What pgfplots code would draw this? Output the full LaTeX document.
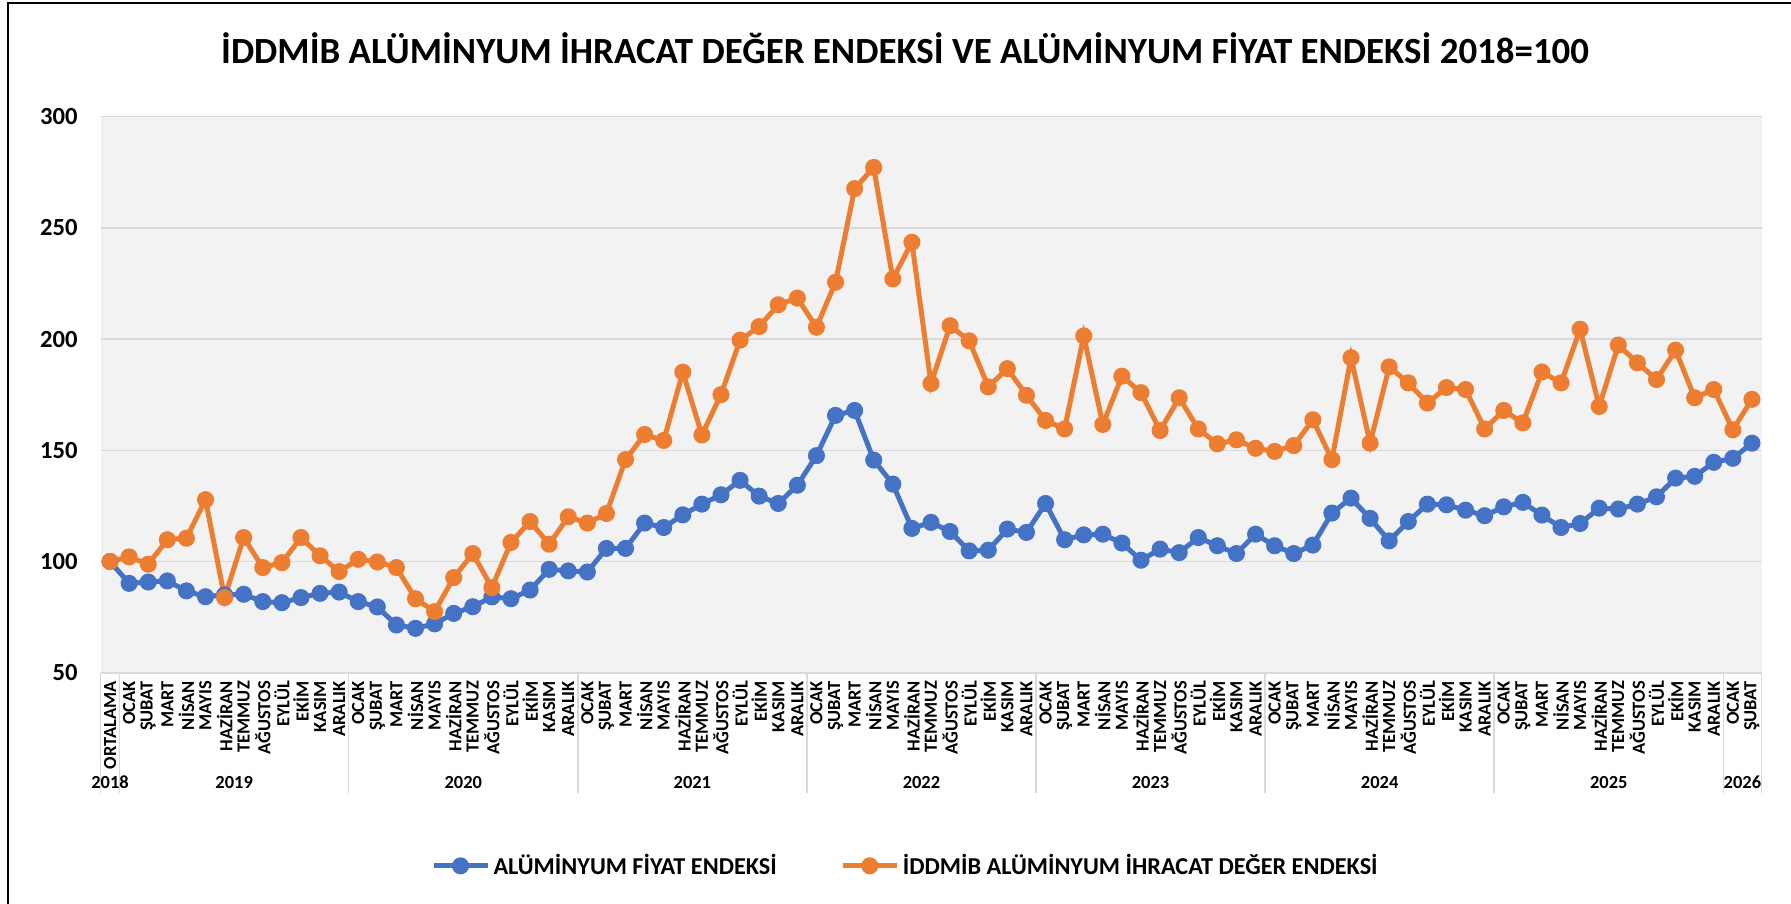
\documentclass[border=0pt]{standalone}
\usepackage{fontspec}
\setmainfont{Carlito}
\usepackage{pgfplots}
\pgfplotsset{compat=1.18}
\definecolor{cblue}{HTML}{4472C4}
\definecolor{corange}{HTML}{ED7D31}
\definecolor{plotbg}{HTML}{F2F2F2}
\definecolor{gridc}{HTML}{D9D9D9}

\begin{document}
\begin{tikzpicture}
\fill[white] (0,0) rectangle (358.2mm,-180.6mm);
\useasboundingbox (0,0) rectangle (358.2mm,-180.6mm);
\draw[black, line width=0.45mm] (1.6mm,-181mm) -- (1.6mm,-0.6mm) -- (359mm,-0.6mm);

\begin{axis}[
  at={(20.1mm,-134.56mm)}, anchor=south west,
  width=332.2mm, height=111.26mm, scale only axis,
  xmin=-0.5, xmax=86.5, ymin=50, ymax=300,
  ytick={50,100,...,300},
  xtick={0,...,86},
  xticklabels={ORTALAMA,
    OCAK,ŞUBAT,MART,NİSAN,MAYIS,HAZİRAN,TEMMUZ,AĞUSTOS,EYLÜL,EKİM,KASIM,ARALIK,
    OCAK,ŞUBAT,MART,NİSAN,MAYIS,HAZİRAN,TEMMUZ,AĞUSTOS,EYLÜL,EKİM,KASIM,ARALIK,
    OCAK,ŞUBAT,MART,NİSAN,MAYIS,HAZİRAN,TEMMUZ,AĞUSTOS,EYLÜL,EKİM,KASIM,ARALIK,
    OCAK,ŞUBAT,MART,NİSAN,MAYIS,HAZİRAN,TEMMUZ,AĞUSTOS,EYLÜL,EKİM,KASIM,ARALIK,
    OCAK,ŞUBAT,MART,NİSAN,MAYIS,HAZİRAN,TEMMUZ,AĞUSTOS,EYLÜL,EKİM,KASIM,ARALIK,
    OCAK,ŞUBAT,MART,NİSAN,MAYIS,HAZİRAN,TEMMUZ,AĞUSTOS,EYLÜL,EKİM,KASIM,ARALIK,
    OCAK,ŞUBAT,MART,NİSAN,MAYIS,HAZİRAN,TEMMUZ,AĞUSTOS,EYLÜL,EKİM,KASIM,ARALIK,
    OCAK,ŞUBAT},
  major tick length=0pt,
  axis line style={draw=none},
  axis background/.style={fill=plotbg},
  ymajorgrids,
  grid style={draw=gridc, line width=0.3mm},
  /pgf/number format/assume math mode=true,
  yticklabel style={font=\bfseries\fontsize{14}{14}\selectfont, inner sep=0pt, xshift=-4.5mm},
  xticklabel style={rotate=90, anchor=east, inner sep=0pt, font=\bfseries\fontsize{10.5}{10.5}\selectfont},
  xticklabel shift=1.6mm,
  clip=false,
  legend style={at={(0.485,-0.347)}, anchor=center, draw=none, fill=none,
    font=\bfseries\fontsize{13.8}{13.8}\selectfont,
    /tikz/every even column/.append style={column sep=12mm}},
  legend columns=2,
  legend image code/.code={\draw[mark repeat=2, mark phase=2, #1]
    plot coordinates {(0mm,0mm) (5.4mm,0mm) (10.8mm,0mm)};},
]

%% year separators under the axis
\pgfplotsinvokeforeach{-0.5,0.5,12.5,24.5,36.5,48.5,60.5,72.5,84.5,86.5}{
  \draw[gridc, line width=0.3mm] (axis cs:#1,50) -- ([yshift=-24mm]axis cs:#1,50);
}

\addplot[color=cblue, line width=1mm, mark=*, mark size=1.2mm] coordinates {
  (0,100) (1,90.2) (2,90.8) (3,91.3) (4,86.8) (5,84.2) (6,85) (7,85.3) (8,82) (9,81.5)
  (10,83.8) (11,85.7) (12,86.3) (13,82) (14,79.6) (15,71.5) (16,70) (17,72) (18,76.7) (19,79.7)
  (20,84.1) (21,83.3) (22,87.2) (23,96.5) (24,95.8) (25,95.3) (26,105.9) (27,105.9) (28,117.3) (29,115.3)
  (30,121) (31,125.8) (32,130) (33,136.5) (34,129.4) (35,126.1) (36,134.3) (37,147.6) (38,165.7) (39,167.9)
  (40,145.6) (41,134.8) (42,114.9) (43,117.6) (44,113.5) (45,104.8) (46,105.1) (47,114.6) (48,113.1) (49,126.1)
  (50,109.8) (51,112) (52,112.3) (53,108.3) (54,100.6) (55,105.6) (56,104) (57,110.8) (58,107.1) (59,103.6)
  (60,112.3) (61,107.1) (62,103.6) (63,107.4) (64,121.8) (65,128.5) (66,119.4) (67,109.3) (68,118) (69,125.8)
  (70,125.5) (71,123.1) (72,120.6) (73,124.6) (74,126.6) (75,120.9) (76,115.3) (77,117.1) (78,124) (79,123.6)
  (80,125.8) (81,129.1) (82,137.5) (83,138.3) (84,144.6) (85,146.4) (86,153.2)
};
\addlegendentry{ALÜMİNYUM FİYAT ENDEKSİ}

\addplot[color=corange, line width=1mm, mark=*, mark size=1.2mm] coordinates {
  (0,100) (1,102.1) (2,98.8) (3,109.8) (4,110.5) (5,127.8) (6,83.8) (7,110.8) (8,97.3) (9,99.5)
  (10,110.8) (11,102.6) (12,95.5) (13,101) (14,99.8) (15,97.3) (16,83.3) (17,77.5) (18,92.8) (19,103.6)
  (20,88.3) (21,108.6) (22,118) (23,107.8) (24,120.1) (25,117.3) (26,121.6) (27,145.8) (28,157.1) (29,154.4)
  (30,185.1) (31,156.9) (32,175) (33,199.5) (34,205.6) (35,215.4) (36,218.4) (37,205.3) (38,225.5) (39,267.6)
  (40,277.1) (41,227) (42,243.5) (43,180) (44,206) (45,199.2) (46,178.5) (47,186.7) (48,174.7) (49,163.4)
  (50,159.6) (51,201.4) (52,161.6) (53,183.3) (54,175.9) (55,158.9) (56,173.6) (57,159.6) (58,152.9) (59,154.7)
  (60,150.9) (61,149.5) (62,152.1) (63,163.7) (64,145.8) (65,191.6) (66,153.2) (67,187.5) (68,180.3) (69,171.2)
  (70,178.2) (71,177.3) (72,159.6) (73,167.9) (74,162.3) (75,185.2) (76,180.3) (77,204.4) (78,169.7) (79,197.3)
  (80,189.3) (81,181.8) (82,195) (83,173.6) (84,177.3) (85,159.2) (86,172.9)
};
\addlegendentry{İDDMİB ALÜMİNYUM İHRACAT DEĞER ENDEKSİ}

%% year labels
\pgfplotsinvokeforeach{0/2018,6.5/2019,18.5/2020,30.5/2021,42.5/2022,54.5/2023,66.5/2024,78.5/2025,85.5/2026}{}
\pgfplotsinvokeforeach{0,6.5,18.5,30.5,42.5,54.5,66.5,78.5,85.5}{}
\node[font=\bfseries\fontsize{10.5}{10.5}\selectfont] at ([yshift=-21.9mm]axis cs:0,50) {2018};
\node[font=\bfseries\fontsize{10.5}{10.5}\selectfont] at ([yshift=-21.9mm]axis cs:6.5,50) {2019};
\node[font=\bfseries\fontsize{10.5}{10.5}\selectfont] at ([yshift=-21.9mm]axis cs:18.5,50) {2020};
\node[font=\bfseries\fontsize{10.5}{10.5}\selectfont] at ([yshift=-21.9mm]axis cs:30.5,50) {2021};
\node[font=\bfseries\fontsize{10.5}{10.5}\selectfont] at ([yshift=-21.9mm]axis cs:42.5,50) {2022};
\node[font=\bfseries\fontsize{10.5}{10.5}\selectfont] at ([yshift=-21.9mm]axis cs:54.5,50) {2023};
\node[font=\bfseries\fontsize{10.5}{10.5}\selectfont] at ([yshift=-21.9mm]axis cs:66.5,50) {2024};
\node[font=\bfseries\fontsize{10.5}{10.5}\selectfont] at ([yshift=-21.9mm]axis cs:78.5,50) {2025};
\node[font=\bfseries\fontsize{10.5}{10.5}\selectfont] at ([yshift=-21.9mm]axis cs:85.5,50) {2026};
\end{axis}

\node[font=\bfseries\fontsize{21}{21}\selectfont] at (181mm,-9.6mm)
  {İDDMİB ALÜMİNYUM İHRACAT DEĞER ENDEKSİ VE ALÜMİNYUM FİYAT ENDEKSİ 2018=100};
\end{tikzpicture}
\end{document}
